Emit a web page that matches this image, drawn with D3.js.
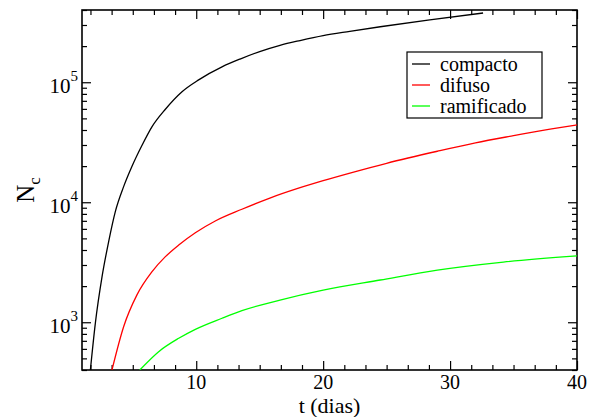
<!DOCTYPE html>
<html lang="es">
<head>
<meta charset="UTF-8">
<title>N_c vs t</title>
<script src="https://d3js.org/d3.v7.min.js"></script>
<style>
  body { margin: 0; background: #fff; }
  .tick line { stroke: #000; stroke-width: 1.2; }
</style>
</head>
<body>
<svg width="590" height="417"></svg>
<script>
// series: t (dias), N_c
const compactoT = [1.66, 2.05, 2.58, 3.1, 3.63, 4.28, 4.94, 5.73, 6.52, 7.57, 8.88, 10.19, 12.03, 13.45, 15, 16.6, 18.18, 20, 22.1, 24.5, 28.4, 32.6];
const compactoN = [400, 980, 2400, 4700, 8400, 13500, 19950, 29850, 42700, 59600, 83400, 104700, 134300, 156000, 180000, 203000, 222700, 245000, 265800, 290000, 330800, 377600];

const difusoT = [3.36, 4.28, 5.33, 6.52, 7.57, 8.62, 9.93, 11.5, 13.6, 15.8, 18, 20, 22.4, 25, 29, 32, 35, 38, 40];
const difusoN = [400, 918, 1690, 2640, 3520, 4400, 5570, 6980, 8740, 10840, 13030, 15140, 17860, 21130, 26610, 31260, 35890, 40930, 44160];

const ramificadoT = [5.55, 7.04, 8.62, 9.93, 12.03, 13.6, 16.6, 20, 24.5, 29, 34.2, 40];
const ramificadoN = [400, 569, 735, 873, 1080, 1250, 1530, 1850, 2250, 2720, 3175, 3570];

const seriesNames = ["compacto", "difuso", "ramificado"];
const seriesColors = ["#000000", "#ff0000", "#00ff00"];

const xTicks = [10, 20, 30, 40];
const yTicks = [1e3, 1e4, 1e5];
const yExponents = ["3", "4", "5"];

const FONT = "'Liberation Serif', 'DejaVu Serif', 'Times New Roman', Times, serif";

const svg = d3.select("svg").style("font-family", FONT);
const margin = { top: 10, right: 13, bottom: 47, left: 82 };
const width = 590 - margin.left - margin.right;
const height = 417 - margin.top - margin.bottom;
const g = svg.append("g").attr("transform", `translate(${margin.left},${margin.top})`);

const x = d3.scaleLinear().domain([1, 40]).range([0, width]);
const y = d3.scaleLog().domain([400, 400000]).range([height, 0]);

// minor ticks: x every 10/6, y at 2..9 of each decade
const xMinor = d3.range(5 / 3, 40, 5 / 3).filter(v => Math.abs(v / 10 - Math.round(v / 10)) > 1e-6);
const yMinor = [];
[100, 1000, 10000, 100000].forEach(d => d3.range(2, 10).forEach(k => {
  const v = d * k;
  if (v >= 400 && v <= 400000) yMinor.push(v);
}));

const axes = [
  [() => d3.axisBottom(x), xTicks, xMinor, `translate(0,${height})`],
  [() => d3.axisTop(x), xTicks, xMinor, null],
  [() => d3.axisLeft(y), yTicks, yMinor, null],
  [() => d3.axisRight(y), yTicks, yMinor, `translate(${width},0)`]
];
axes.forEach(([mk, major, minor, tr]) => {
  [[major, -9], [minor, -5]].forEach(([vals, sz]) => {
    const a = g.append("g")
      .call(mk().tickValues(vals).tickSizeInner(sz).tickSizeOuter(0).tickFormat(""));
    if (tr) a.attr("transform", tr);
    a.select(".domain").remove();
  });
});

// frame
g.append("rect")
  .attr("width", width).attr("height", height)
  .attr("fill", "none").attr("stroke", "#000").attr("stroke-width", 1.6);

// x tick labels
g.selectAll(".xlab").data(xTicks).enter().append("text")
  .attr("x", d => x(d)).attr("y", height + 19)
  .attr("text-anchor", "middle").attr("font-size", 20)
  .attr("font-family", FONT)
  .text(d => d);

// y tick labels 10^n
const ylab = g.selectAll(".ylab").data(yTicks).enter().append("text")
  .attr("x", -4).attr("y", d => y(d) + 11)
  .attr("text-anchor", "end").attr("font-size", 21)
  .attr("font-family", FONT);
ylab.append("tspan").text("10");
ylab.append("tspan").attr("dy", -12).attr("font-size", 15).text((d, i) => yExponents[i]);

// axis titles
svg.append("text")
  .attr("x", margin.left + width / 2).attr("y", 413)
  .attr("text-anchor", "middle").attr("font-size", 22)
  .attr("font-family", FONT)
  .text("t (dias)");

const yt = svg.append("text")
  .attr("transform", "translate(34,190) rotate(-90)")
  .attr("text-anchor", "middle").attr("font-size", 25)
  .attr("font-family", FONT);
yt.append("tspan").text("N");
yt.append("tspan").attr("dy", 6).attr("font-size", 17).text("c");

// curves
const line = d3.line().x(d => x(d[0])).y(d => y(d[1])).curve(d3.curveMonotoneX);
const series = [
  d3.zip(compactoT, compactoN),
  d3.zip(difusoT, difusoN),
  d3.zip(ramificadoT, ramificadoN)
];
g.append("clipPath").attr("id", "plotclip")
  .append("rect").attr("width", width).attr("height", height);
g.append("g").attr("clip-path", "url(#plotclip)")
  .selectAll("path").data(series).enter().append("path")
  .attr("d", d => line(d))
  .attr("fill", "none")
  .attr("stroke", (d, i) => seriesColors[i])
  .attr("stroke-width", 1.3);

// legend
const legend = svg.append("g").attr("transform", "translate(407,52)");
legend.append("rect")
  .attr("width", 135).attr("height", 66)
  .attr("fill", "#fff").attr("stroke", "#000").attr("stroke-width", 1.2);
const rows = legend.selectAll(".row").data(seriesNames).enter().append("g")
  .attr("transform", (d, i) => `translate(0,${12 + i * 21})`);
rows.append("line")
  .attr("x1", 5).attr("x2", 23)
  .attr("stroke", (d, i) => seriesColors[i]).attr("stroke-width", 1.3);
rows.append("text")
  .attr("x", 33).attr("y", 7)
  .attr("font-size", 20)
  .attr("font-family", FONT)
  .text(d => d);
</script>
</body>
</html>
